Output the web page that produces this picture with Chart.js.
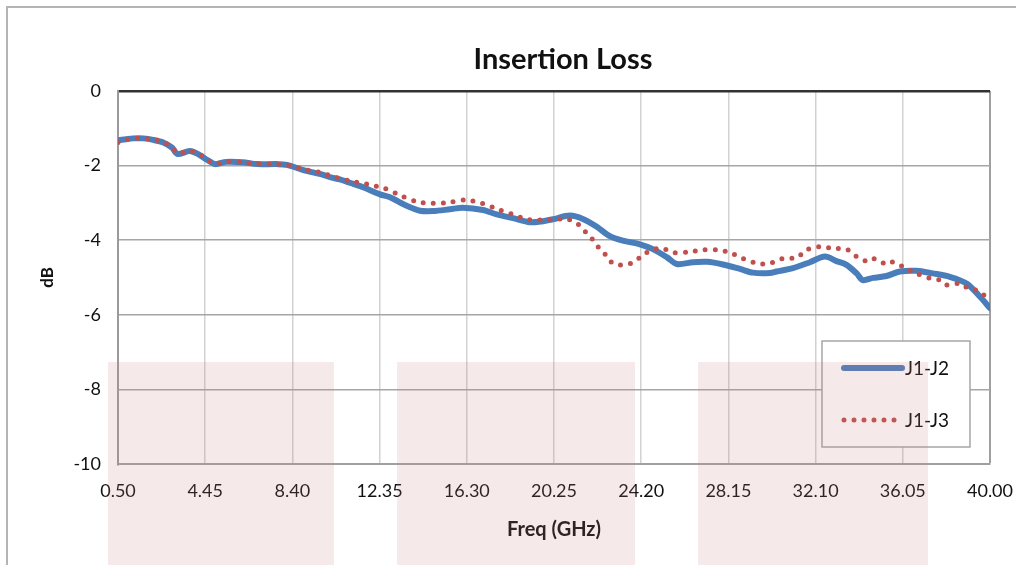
<!DOCTYPE html>
<html>
<head>
<meta charset="utf-8">
<script src="https://cdn.jsdelivr.net/npm/chart.js@4.4.1/dist/chart.umd.min.js"></script>
<style>
  body { margin: 0; background: #fff; }
  #wrap { position: relative; width: 1016px; height: 565px; overflow: hidden; }
  #frame { position: absolute; left: 6px; top: 6px; width: 1100px; height: 700px;
           border-left: 2px solid #b4b4b4; border-top: 2px solid #b4b4b4; }
  canvas { position: absolute; left: 0; top: 0; }
</style>
</head>
<body>
<div id="wrap">
  <div id="frame"></div>
  <canvas id="chart" width="1016" height="565"></canvas>
</div>
<script>
// DADOS
const freqJ1J2 = [0.5, 0.75, 1.2, 1.65, 2.1, 2.55, 2.95, 3.2, 3.75, 4.15, 4.55, 4.9, 5.4, 6.15, 6.8, 7.7, 8.15, 8.9, 9.8, 10.1, 10.55, 11.0, 11.6, 12.37, 12.82, 13.59, 14.18, 14.77, 15.54, 16.12, 17.03, 17.66, 18.39, 19.16, 19.75, 20.2, 20.97, 21.56, 22.19, 22.78, 23.37, 24.14, 24.73, 25.37, 25.82, 26.55, 27.18, 27.9, 28.67, 29.26, 30.03, 30.33, 31.07, 31.84, 32.52, 33.05, 33.5, 33.96, 34.24, 34.7, 35.31, 35.92, 36.67, 37.41, 38.18, 38.94, 39.54, 40.0];
const lossJ1J2 = [-1.32, -1.30, -1.27, -1.27, -1.31, -1.38, -1.52, -1.69, -1.61, -1.70, -1.85, -1.96, -1.90, -1.91, -1.96, -1.96, -1.98, -2.12, -2.25, -2.31, -2.37, -2.46, -2.58, -2.77, -2.85, -3.08, -3.21, -3.22, -3.17, -3.13, -3.19, -3.31, -3.41, -3.52, -3.49, -3.44, -3.34, -3.43, -3.64, -3.89, -4.01, -4.11, -4.24, -4.46, -4.64, -4.59, -4.58, -4.65, -4.77, -4.87, -4.88, -4.84, -4.75, -4.59, -4.44, -4.56, -4.66, -4.89, -5.07, -5.01, -4.96, -4.84, -4.82, -4.89, -4.98, -5.16, -5.51, -5.82];

const freqJ1J3 = [0.5, 0.75, 1.2, 1.65, 2.1, 2.55, 2.95, 3.2, 3.75, 4.15, 4.55, 4.9, 5.4, 6.15, 6.8, 7.7, 8.15, 8.9, 9.8, 10.1, 10.95, 11.8, 12.57, 13.34, 14.06, 14.77, 15.45, 16.22, 16.99, 17.66, 18.34, 19.02, 19.7, 20.11, 20.83, 21.2, 21.5, 21.73, 22.0, 22.24, 22.56, 22.83, 23.1, 23.55, 23.9, 24.14, 24.45, 24.82, 25.18, 25.64, 26.41, 27.0, 27.63, 28.22, 28.81, 29.44, 30.03, 30.17, 30.63, 31.24, 31.7, 32.3, 32.83, 33.5, 33.96, 34.41, 34.7, 35.02, 35.4, 35.6, 36.06, 36.67, 37.28, 37.73, 38.03, 38.64, 38.94, 39.4, 39.7, 40.0];
const lossJ1J3 = [-1.38, -1.33, -1.27, -1.27, -1.30, -1.37, -1.52, -1.67, -1.60, -1.68, -1.84, -1.95, -1.90, -1.91, -1.95, -1.96, -1.98, -2.10, -2.20, -2.27, -2.40, -2.50, -2.61, -2.81, -2.97, -3.01, -2.99, -2.92, -3.01, -3.16, -3.30, -3.44, -3.46, -3.45, -3.43, -3.53, -3.64, -3.82, -3.98, -4.17, -4.37, -4.58, -4.66, -4.65, -4.58, -4.46, -4.33, -4.24, -4.22, -4.33, -4.31, -4.26, -4.26, -4.33, -4.49, -4.62, -4.63, -4.59, -4.49, -4.47, -4.26, -4.17, -4.22, -4.24, -4.44, -4.56, -4.49, -4.58, -4.65, -4.58, -4.71, -4.89, -5.02, -5.07, -5.20, -5.16, -5.26, -5.35, -5.47, -5.40];

const xTicks = [0.5, 4.45, 8.4, 12.35, 16.3, 20.25, 24.2, 28.15, 32.1, 36.05, 40.0];
const yTicks = [0, -2, -4, -6, -8, -10];

const FONT = "Lato, 'Liberation Sans', sans-serif";

// título e legenda desenhados à mão, como no Excel
const decorPlugin = {
  id: "decor",
  afterDraw(chart) {
    const ctx = chart.ctx;
    ctx.save();

    // título
    ctx.fillStyle = "#111";
    ctx.font = "bold 29px " + FONT;
    ctx.textAlign = "center";
    ctx.textBaseline = "middle";
    ctx.fillText("Insertion Loss", 563, 60);

    // legenda
    ctx.fillStyle = "#fff";
    ctx.fillRect(822, 341, 148, 106);
    ctx.strokeStyle = "#a6a6a6";
    ctx.lineWidth = 1.5;
    ctx.strokeRect(822, 341, 148, 106);

    const rows = [368, 420];
    chart.data.datasets.forEach((ds, i) => {
      const y = rows[i];
      ctx.beginPath();
      ctx.strokeStyle = ds.borderColor;
      ctx.lineWidth = ds.borderWidth;
      ctx.lineCap = "round";
      ctx.setLineDash(ds.borderDash || []);
      ctx.moveTo(844, y);
      ctx.lineTo(i === 0 ? 902 : 898, y);
      ctx.stroke();
      ctx.setLineDash([]);
      ctx.fillStyle = "#111";
      ctx.font = "19px " + FONT;
      ctx.textAlign = "left";
      ctx.fillText(ds.label, 905, y + 1);
    });

    // faixas rosadas sobre o fundo
    ctx.fillStyle = "rgba(200, 125, 125, 0.17)";
    [[108, 334], [397, 635], [698, 928]].forEach(([a, b]) => {
      ctx.fillRect(a, 362, b - a, 565 - 362);
    });
    ctx.restore();
  }
};

const toPoints = (xs, ys) => xs.map((x, i) => ({ x, y: ys[i] }));

new Chart(document.getElementById("chart"), {
  type: "line",
  data: {
    datasets: [
      {
        label: "J1-J2",
        data: toPoints(freqJ1J2, lossJ1J2),
        borderColor: "#4a7ebb",
        borderWidth: 6,
        pointRadius: 0,
        tension: 0.3,
        order: 2,
        borderCapStyle: "round",
        borderJoinStyle: "round"
      },
      {
        label: "J1-J3",
        data: toPoints(freqJ1J3, lossJ1J3),
        borderColor: "#c0504d",
        borderWidth: 5,
        borderDash: [0, 10],
        borderCapStyle: "round",
        pointRadius: 0,
        order: 1,
        tension: 0.3
      }
    ]
  },
  options: {
    responsive: false,
    animation: false,
    layout: { padding: { left: 30, right: 26, top: 91, bottom: 0 } },
    plugins: {
      legend: { display: false },
      title: { display: false },
      tooltip: { enabled: false }
    },
    scales: {
      x: {
        type: "linear",
        min: 0.5,
        max: 40,
        afterBuildTicks: (scale) => { scale.ticks = xTicks.map(v => ({ value: v })); },
        afterFit: (scale) => {
          scale.height = 101;
          scale.paddingLeft = 0;
          scale.paddingRight = 0;
        },
        ticks: {
          callback: (v) => Number(v).toFixed(2),
          color: "#111",
          font: { family: FONT, size: 18 },
          padding: 16,
          maxRotation: 0,
          autoSkip: false
        },
        grid: {
          drawTicks: false,
          color: (c) => c.tick && c.tick.value === 40 ? "#a0a0a0" : "#d2d2d2",
          lineWidth: (c) => c.tick && c.tick.value === 40 ? 2 : 1.5
        },
        border: { color: "#a0a0a0", width: 2 },
        title: {
          display: true,
          text: "Freq (GHz)",
          color: "#111",
          font: { family: FONT, size: 20, weight: "bold" },
          padding: { top: 0, bottom: 23 }
        }
      },
      y: {
        min: -10,
        max: 0,
        afterBuildTicks: (scale) => { scale.ticks = yTicks.map(v => ({ value: v })); },
        afterFit: (scale) => { scale.width = 88; },
        ticks: {
          color: "#111",
          font: { family: FONT, size: 18 },
          padding: 17
        },
        grid: {
          drawTicks: false,
          color: (c) => c.tick && c.tick.value === 0 ? "#333" : "#a6a6a6",
          lineWidth: (c) => c.tick && c.tick.value === 0 ? 2.5 : 1.5
        },
        border: { color: "#9a9a9a", width: 2 },
        title: {
          display: true,
          text: "dB",
          color: "#111",
          font: { family: FONT, size: 17, weight: "bold" },
          padding: { top: 7, bottom: 0 }
        }
      }
    }
  },
  plugins: [decorPlugin]
});
</script>
</body>
</html>
